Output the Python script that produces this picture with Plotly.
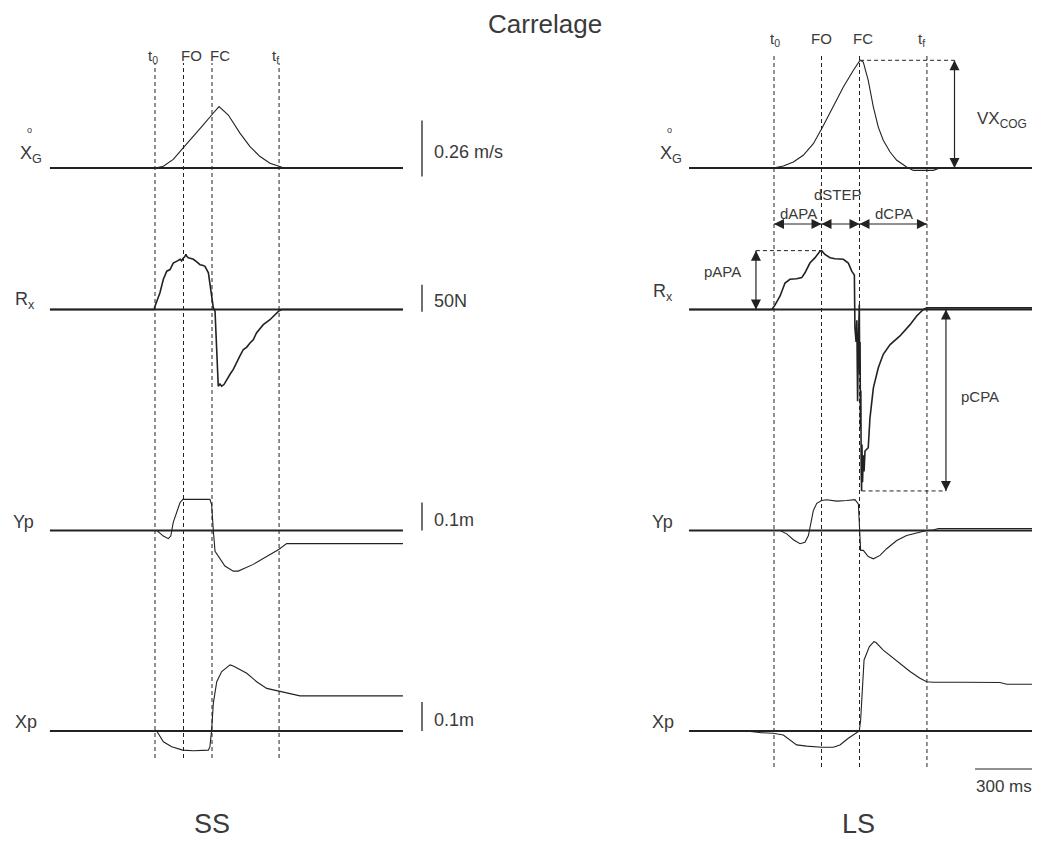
import plotly.graph_objects as go

W, H = 1042, 841
INK = "#222222"
TXT = "#3a3a3a"
FONT = "Liberation Sans, Arial, sans-serif"

# ---------------- data (time in ms, t0 = 0) ----------------
# SS condition
ss_span = [-553, 1305]
ss_events = [0, 150, 300, 653]

ss_vx_t = [-553, 0, 44, 96, 146, 202, 254, 298, 337, 386, 412, 447, 500, 553, 605, 651, 680, 1305]
ss_vx = [0, 0, 0.008, 0.04, 0.091, 0.145, 0.2, 0.246, 0.285, 0.246, 0.208, 0.162, 0.099, 0.053, 0.022, 0.008, 0, 0]

ss_rx_t = [-553, -5, 0, 26, 44, 62, 79, 96, 118, 132, 140, 146, 155, 163, 168, 175, 185, 202, 220, 237, 250, 263,
           281, 289, 298, 307, 316, 321, 328, 333, 342, 351, 363, 377, 395, 412, 430, 447, 465, 482, 500, 517,
           535, 552, 570, 605, 651, 667, 1305]
ss_rx = [0, 0, 6, 31, 56, 71, 74, 86, 90, 93, 90, 94, 97, 102, 98, 96, 95, 93, 88, 83, 82, 80,
         68, 49, 25, 3, -3, -43, -86, -142, -138, -142, -139, -130, -120, -111, -97, -86, -74, -70, -62, -56,
         -43, -36, -28, -19, -3, 0, 0]

ss_yp_t = [-553, 10, 44, 70, 83, 96, 132, 147, 289, 298, 307, 316, 368, 412, 438, 517, 651, 693, 1305]
ss_yp = [0, 0, -0.02, -0.029, -0.02, 0.029, 0.1, 0.111, 0.111, 0.093, 0, -0.074, -0.127, -0.145, -0.145,
         -0.121, -0.068, -0.047, -0.047]

ss_xp_t = [-553, 9, 44, 88, 146, 202, 281, 289, 298, 307, 325, 351, 395, 412, 483, 535, 588, 651, 711, 763, 1305]
ss_xp = [0, 0, -0.037, -0.054, -0.066, -0.068, -0.066, -0.054, 0.003, 0.096, 0.170, 0.205, 0.228, 0.224,
         0.199, 0.170, 0.147, 0.138, 0.130, 0.121, 0.121]

# LS condition
ls_span = [-447, 1358]
ls_events = [0, 250, 450, 805]

ls_vx_t = [-447, -4, 49, 102, 154, 207, 251, 312, 365, 417, 453, 470, 496, 523, 549, 575, 611, 646, 698,
           733, 838, 874, 1358]
ls_vx = [0, 0, 0.009, 0.028, 0.059, 0.113, 0.182, 0.283, 0.376, 0.453, 0.5, 0.492, 0.407, 0.283, 0.19,
         0.129, 0.074, 0.036, 0.005, -0.011, -0.011, 0, 0]

ls_rx_t = [-447, -12, 5, 32, 58, 84, 119, 146, 163, 189, 216, 242, 251, 268, 295, 321, 365, 391, 409, 423,
           426, 432, 436, 440, 444, 449, 451, 453, 455, 457, 459, 461, 463, 466, 470, 474, 479, 496, 505,
           523, 549, 575, 611, 663, 716, 751, 786, 804, 1358]
ls_rx = [0, 0, 8, 25, 49, 56, 57, 59, 68, 86, 96, 108, 109, 102, 96, 94, 93, 86, 71, 64,
         -34, -60, -20, -170, -60, 9, -120, -60, -220, -150, -300, -336, -250, -320, -270, -300, -262, -256, -201,
         -145, -108, -83, -65, -49, -28, -12, 0, 3, 3]

ls_yp_t = [-447, 32, 67, 102, 137, 163, 181, 193, 207, 225, 251, 277, 330, 383, 426, 444, 449, 453, 456,
           470, 496, 523, 558, 593, 646, 698, 751, 804, 838, 865, 1358]
ls_yp = [0, 0, -0.012, -0.033, -0.047, -0.042, -0.018, 0.024, 0.071, 0.097, 0.107, 0.110, 0.105, 0.107,
         0.110, 0.095, 0, -0.060, -0.071, -0.071, -0.093, -0.101, -0.089, -0.065, -0.036, -0.018, -0.010,
         0, 0.002, 0.007, 0.007]

ls_xp_t = [-447, -150, -65, -4, 49, 84, 119, 172, 251, 312, 347, 391, 426, 449, 456, 467, 474, 488, 502, 526,
           537, 575, 628, 680, 716, 768, 804, 838, 944, 979, 996, 1189, 1225, 1358]
ls_xp = [0, 0, -0.006, -0.008, -0.014, -0.031, -0.048, -0.052, -0.056, -0.056, -0.048, -0.025, -0.010, 0,
         0.038, 0.153, 0.245, 0.268, 0.291, 0.308, 0.305, 0.279, 0.251, 0.222, 0.205, 0.182, 0.170, 0.168,
         0.168, 0.170, 0.168, 0.167, 0.161, 0.161]

event_labels = ["t<sub>0</sub>", "FO", "FC", "t<sub>f</sub>"]
row_labels = ["X<sub>G</sub>", "R<sub>x</sub>", "Yp", "Xp"]
scale_values = [0.26, 50, 0.1, 0.1]
scale_texts = ["0.26 m/s", "50N", "0.1m", "0.1m"]
time_bar_ms = 300

# ---------------- layout geometry ----------------
MS_PER_PX = 300 / 57
# units per pixel for each row: velocity, force, Yp, Xp
UNIT_PER_PX = [0.26 / 56, 50 / 27, 0.1 / 28, 0.1 / 29]
ROW_BASE_PX = [168, 309.5, 530.5, 731]
T0_PX = [155, 774]


def px(x):
    return x / W


def py(y):
    return 1 - y / H


fig = go.Figure()

left_rows = [("y", ss_vx_t, ss_vx), ("y2", ss_rx_t, ss_rx), ("y3", ss_yp_t, ss_yp), ("y4", ss_xp_t, ss_xp)]
right_rows = [("y5", ls_vx_t, ls_vx), ("y6", ls_rx_t, ls_rx), ("y7", ls_yp_t, ls_yp), ("y8", ls_xp_t, ls_xp)]

for xa, span, rows in (("x", ss_span, left_rows), ("x2", ls_span, right_rows)):
    for i, (ya, t, v) in enumerate(rows):
        # zero line of the channel
        fig.add_trace(go.Scatter(x=span, y=[0, 0], xaxis=xa, yaxis=ya, mode="lines",
                                 line=dict(color=INK, width=2.2), hoverinfo="skip"))
        wid = 1.6 if i == 1 else 1.1
        fig.add_trace(go.Scatter(x=t, y=v, xaxis=xa, yaxis=ya, mode="lines",
                                 line=dict(color=INK, width=wid), hoverinfo="skip"))

# axes
lay = dict(
    width=W, height=H, margin=dict(l=0, r=0, t=0, b=0),
    paper_bgcolor="white", plot_bgcolor="white", showlegend=False, hovermode=False,
    xaxis=dict(domain=[0, 0.5], range=[(0 - T0_PX[0]) * MS_PER_PX, (W / 2 - T0_PX[0]) * MS_PER_PX],
               visible=False, anchor="y"),
    xaxis2=dict(domain=[0.5, 1], range=[(W / 2 - T0_PX[1]) * MS_PER_PX, (W - T0_PX[1]) * MS_PER_PX],
                visible=False, anchor="y5"),
)
for col in range(2):
    for r in range(4):
        n = col * 4 + r + 1
        key = "yaxis" if n == 1 else f"yaxis{n}"
        s = UNIT_PER_PX[r]
        b = ROW_BASE_PX[r]
        ax = dict(domain=[0, 1], range=[-(H - b) * s, b * s], visible=False,
                  anchor="x" if col == 0 else "x2")
        if r > 0:
            ax["overlaying"] = "y" if col == 0 else "y5"
        lay[key] = ax
fig.update_layout(**lay)

shapes = []
annotations = []
DASH = "4px,3px"


def label(x0, y0, text, size, xanchor="center"):
    annotations.append(dict(x=px(x0), y=py(y0), xref="paper", yref="paper", text=text, showarrow=False,
                            xanchor=xanchor, yanchor="middle", font=dict(size=size, color=TXT, family=FONT)))


# event lines
for xa, events, top, bot in (("x", ss_events, 63, 758), ("x2", ls_events, 53, 767)):
    for e in events:
        shapes.append(dict(type="line", xref=xa, yref="paper", x0=e, x1=e, y0=py(bot), y1=py(top),
                           line=dict(color=INK, width=1, dash=DASH)))

# event labels
lab_shift_ss = [-2, 8, 8, -4]
lab_shift_ls = [1, 0, 3, -5]
for xa, events, shifts, ypx in (("x", ss_events, lab_shift_ss, 45), ("x2", ls_events, lab_shift_ls, 28)):
    for e, lab, sh in zip(events, event_labels, shifts):
        annotations.append(dict(x=e, y=py(ypx), xref=xa, yref="paper", text=lab, showarrow=False,
                                xanchor="center", xshift=sh, font=dict(size=15, color=TXT, family=FONT)))

# row labels (velocity label carries a small ring for the time derivative)
for xs, ys in (([31, 25, 23, 26], [155, 300, 522, 722]), ([671, 663, 662, 663], [155, 292, 522, 722])):
    for lab, x0, y0 in zip(row_labels, xs, ys):
        label(x0, y0, lab, 18)
    label(xs[0] - 2, 130, "o", 9)

# amplitude scale bars (left column)
bar_t = (422 - T0_PX[0]) * MS_PER_PX
bar_low = [-0.04, -4, 0, 0]
for r, (val, txt, lo) in enumerate(zip(scale_values, scale_texts, bar_low)):
    ya = "y" if r == 0 else f"y{r + 1}"
    shapes.append(dict(type="line", xref="x", yref=ya, x0=bar_t, x1=bar_t, y0=lo, y1=lo + val,
                       line=dict(color=INK, width=1.3)))
    annotations.append(dict(x=bar_t, y=lo + val / 2, xref="x", yref=ya, text=txt, showarrow=False,
                            xanchor="left", xshift=10, yshift=-3,
                            font=dict(size=18, color=TXT, family=FONT)))

# time scale bar
tb_end = ls_span[1]
shapes.append(dict(type="line", xref="x2", yref="paper", x0=tb_end - time_bar_ms, x1=tb_end,
                   y0=py(769), y1=py(769), line=dict(color=INK, width=1.2)))
annotations.append(dict(x=tb_end - time_bar_ms / 2, y=py(798), xref="x2", yref="paper",
                        text=f"{time_bar_ms} ms", showarrow=False, xanchor="center",
                        font=dict(size=17, color=TXT, family=FONT)))


# ---------- LS parameter annotations ----------
def double_arrow(ya, x0, y0, x1, y1, horizontal):
    shapes.append(dict(type="line", xref="x2", yref=ya, x0=x0, x1=x1, y0=y0, y1=y1,
                       line=dict(color=INK, width=1.2)))
    syms = ["arrow-left", "arrow-right"] if horizontal else ["arrow-down", "arrow-up"]
    fig.add_trace(go.Scatter(x=[x0, x1], y=[y0, y1], xaxis="x2", yaxis=ya, mode="markers",
                             marker=dict(symbol=syms, size=10, color=INK, line=dict(width=0)),
                             hoverinfo="skip"))


# durations (drawn on the force channel's scale)
DUR_LEVEL = (ROW_BASE_PX[1] - 224) * UNIT_PER_PX[1]
double_arrow("y6", ls_events[0], DUR_LEVEL, ls_events[1], DUR_LEVEL, True)
double_arrow("y6", ls_events[1], DUR_LEVEL, ls_events[2], DUR_LEVEL, True)
double_arrow("y6", ls_events[2], DUR_LEVEL, ls_events[3], DUR_LEVEL, True)
label(798, 213, "dAPA", 15)
label(838, 194, "dSTEP", 15)
label(894, 213, "dCPA", 15)

# peak velocity
vx_peak = max(ls_vx)
vx_peak_t = ls_vx_t[ls_vx.index(vx_peak)]
vx_arrow_t = 950
shapes.append(dict(type="line", xref="x2", yref="y5", x0=vx_peak_t, x1=vx_arrow_t, y0=vx_peak, y1=vx_peak,
                   line=dict(color=INK, width=1, dash=DASH)))
double_arrow("y5", vx_arrow_t, 0, vx_arrow_t, vx_peak, False)
label(1002, 120, "VX<sub>COG</sub>", 17)

# APA peak
apa_peak = max(ls_rx)
apa_arrow_t = -95
shapes.append(dict(type="line", xref="x2", yref="y6", x0=apa_arrow_t, x1=ls_events[1], y0=apa_peak,
                   y1=apa_peak, line=dict(color=INK, width=1, dash=DASH)))
double_arrow("y6", apa_arrow_t, 0, apa_arrow_t, apa_peak, False)
label(722, 272, "pAPA", 15)

# CPA peak
cpa_peak = min(ls_rx)
cpa_peak_t = ls_rx_t[ls_rx.index(cpa_peak)]
cpa_arrow_t = 905
shapes.append(dict(type="line", xref="x2", yref="y6", x0=cpa_peak_t, x1=cpa_arrow_t, y0=cpa_peak,
                   y1=cpa_peak, line=dict(color=INK, width=1, dash=DASH)))
double_arrow("y6", cpa_arrow_t, cpa_peak, cpa_arrow_t, 0, False)
label(980, 397, "pCPA", 15)

# titles
label(545, 24, "Carrelage", 26)
label(212, 824, "SS", 27)
label(858, 824, "LS", 27)

fig.update_layout(shapes=shapes, annotations=annotations)
fig.write_html("out.html")
